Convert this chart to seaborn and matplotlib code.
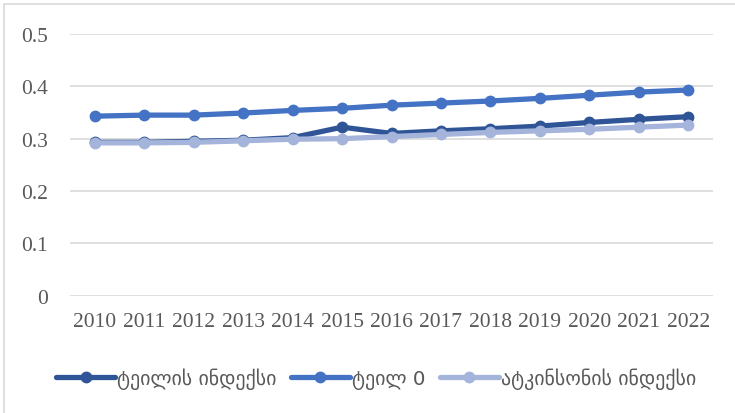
import matplotlib
matplotlib.use("Agg")
import matplotlib.pyplot as plt
import seaborn as sns
import pandas as pd
from matplotlib.patches import Rectangle

years = [2010, 2011, 2012, 2013, 2014, 2015, 2016, 2017, 2018, 2019, 2020, 2021, 2022]
theil_index = [0.293, 0.293, 0.295, 0.297, 0.302, 0.322, 0.310, 0.315, 0.319, 0.324, 0.331, 0.337, 0.342]
theil_0 = [0.343, 0.345, 0.345, 0.349, 0.354, 0.358, 0.364, 0.368, 0.372, 0.377, 0.383, 0.389, 0.393]
atkinson = [0.292, 0.292, 0.293, 0.296, 0.299, 0.300, 0.304, 0.308, 0.312, 0.315, 0.318, 0.322, 0.326]
series_names = ["ტეილის ინდექსი", "ტეილ 0", "ატკინსონის ინდექსი"]
colors = ["#2F5597", "#4472C4", "#A5B4DB"]
yticks = [0, 0.1, 0.2, 0.3, 0.4, 0.5]
ytick_labels = ["0", "0.1", "0.2", "0.3", "0.4", "0.5"]

sns.set_style("white")
plt.rcParams['font.family'] = ['Liberation Serif', 'DejaVu Sans']

df = pd.DataFrame({
    "year": years * 3,
    "value": theil_index + theil_0 + atkinson,
    "series": [series_names[0]] * 13 + [series_names[1]] * 13 + [series_names[2]] * 13,
})

fig = plt.figure(figsize=(7.35, 4.14), dpi=100)
ax = fig.add_axes([70 / 735, 1 - 296.7 / 414, (713 - 70) / 735, (296.7 - 35) / 414])

for name, col in zip(series_names, colors):
    sub = df[df["series"] == name]
    sns.lineplot(data=sub, x="year", y="value", ax=ax, color=col, linewidth=3.8,
                 marker="o", markersize=8.5, markeredgewidth=0, label=name)

ax.set_xlim(2009.5, 2022.5)
ax.set_ylim(0, 0.5)
ax.set_yticks(yticks)
ax.set_yticklabels(ytick_labels)
ax.set_xticks(years)
ax.set_xticklabels([str(y) for y in years])
ax.set_xlabel("")
ax.set_ylabel("")
ax.grid(axis="y", color="#D9D9D9", linewidth=1.2)
ax.set_axisbelow(True)
for s in ax.spines.values():
    s.set_visible(False)
ax.tick_params(axis="both", length=0, labelsize=15.5, labelcolor="#595959")
ax.tick_params(axis="y", pad=16)
ax.tick_params(axis="x", pad=12)

ax.legend(loc="center", bbox_to_anchor=(376 / 735, 1 - 379 / 414), bbox_transform=fig.transFigure,
          ncol=3, frameon=False, handlelength=3.0, handletextpad=0.1,
          columnspacing=0.7, labelcolor="#595959", prop={"family": ["DejaVu Sans"], "size": 14.3})

fig.patches.append(Rectangle((4 / 735, -0.1), 1.2, 1 - 5 / 414 + 0.1, transform=fig.transFigure,
                             fill=False, edgecolor="#D9D9D9", linewidth=1.2))

fig.savefig("out.png", dpi=100)
